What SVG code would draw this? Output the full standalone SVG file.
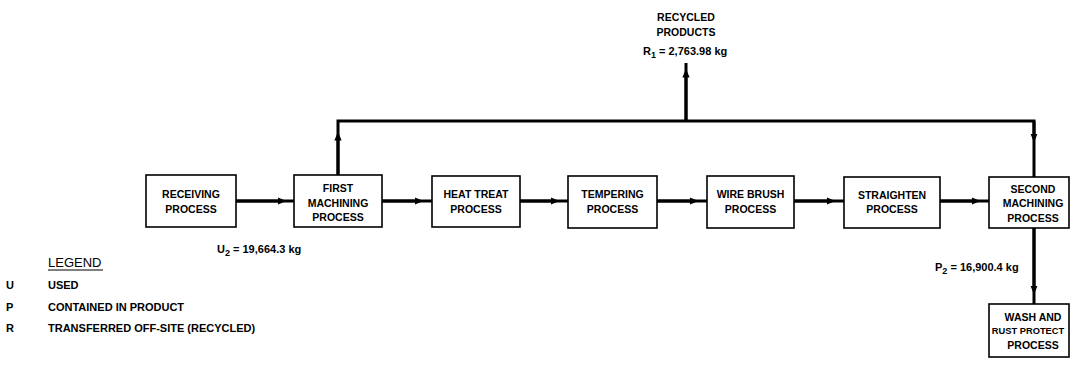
<svg xmlns="http://www.w3.org/2000/svg" width="1070" height="379" viewBox="0 0 1070 379">
<defs>
<style>
.box{fill:#fff;stroke:#000;stroke-width:1.6}
.t{font-family:"Liberation Sans",Arial,sans-serif;font-size:10.5px;font-weight:bold;text-anchor:middle;fill:#000}
.l{font-family:"Liberation Sans",Arial,sans-serif;font-size:11px;font-weight:bold;fill:#000}
.v{font-family:"Liberation Sans",Arial,sans-serif;font-size:11px;font-weight:bold;fill:#000}
.w{fill:none;stroke:#000;stroke-width:3}
</style>
<marker id="ah" viewBox="0 0 10 10" refX="5" refY="5" markerWidth="3" markerHeight="3" orient="auto" markerUnits="strokeWidth">
<path d="M0,1 L10,5 L0,9 z" fill="#000"/>
</marker>
</defs>
<rect width="1070" height="379" fill="#fff"/>
<g id="connectors">
<path class="w" d="M236,201 L294,201"/>
<path class="w" d="M236,201 L282,201" marker-end="url(#ah)"/>
<path class="w" d="M382,201 L432,201"/>
<path class="w" d="M382,201 L419,201" marker-end="url(#ah)"/>
<path class="w" d="M520,201 L568,201"/>
<path class="w" d="M520,201 L555,201" marker-end="url(#ah)"/>
<path class="w" d="M657,201 L707,201"/>
<path class="w" d="M657,201 L694,201" marker-end="url(#ah)"/>
<path class="w" d="M794,201 L844,201"/>
<path class="w" d="M794,201 L831,201" marker-end="url(#ah)"/>
<path class="w" d="M940,201 L989,201"/>
<path class="w" d="M940,201 L976,201" marker-end="url(#ah)"/>
<path class="w" d="M338,175 L338,121 L1034,121 L1034,177"/>
<path class="w" d="M338,175 L338,136" marker-end="url(#ah)"/>
<path class="w" d="M1034,121 L1034,138" marker-end="url(#ah)"/>
<path class="w" d="M686,121 L686,63"/>
<path class="w" d="M686,121 L686,73" marker-end="url(#ah)"/>
<path class="w" d="M1034,228 L1034,304"/>
<path class="w" d="M1034,228 L1034,290" marker-end="url(#ah)"/>
</g>
<g id="receiving">
<rect class="box" x="146" y="175" width="90" height="52"/>
<text class="t" x="191" y="198">RECEIVING</text>
<text class="t" x="191" y="213">PROCESS</text>
</g>
<g id="first-machining">
<rect class="box" x="294" y="175" width="88" height="52"/>
<text class="t" x="338" y="192">FIRST</text>
<text class="t" x="338" y="206.5">MACHINING</text>
<text class="t" x="338" y="221">PROCESS</text>
</g>
<g id="heat-treat">
<rect class="box" x="432" y="176" width="88" height="51"/>
<text class="t" x="476" y="198">HEAT TREAT</text>
<text class="t" x="476" y="213">PROCESS</text>
</g>
<g id="tempering">
<rect class="box" x="568" y="176" width="89" height="52"/>
<text class="t" x="612.5" y="198">TEMPERING</text>
<text class="t" x="612.5" y="213">PROCESS</text>
</g>
<g id="wire-brush">
<rect class="box" x="707" y="176" width="87" height="52"/>
<text class="t" x="750.5" y="198">WIRE BRUSH</text>
<text class="t" x="750.5" y="213">PROCESS</text>
</g>
<g id="straighten">
<rect class="box" x="844" y="177" width="96" height="51"/>
<text class="t" x="892" y="199">STRAIGHTEN</text>
<text class="t" x="892" y="213">PROCESS</text>
</g>
<g id="second-machining">
<rect class="box" x="989" y="177" width="80" height="51"/>
<text class="t" x="1033" y="193">SECOND</text>
<text class="t" x="1033" y="206.5">MACHINING</text>
<text class="t" x="1033" y="221.5">PROCESS</text>
</g>
<g id="wash">
<rect class="box" x="989" y="304" width="80" height="53"/>
<text class="t" x="1033" y="320.5">WASH AND</text>
<text class="t" x="1028" y="334" style="font-size:9.3px">RUST PROTECT</text>
<text class="t" x="1033" y="349">PROCESS</text>
</g>
<g id="labels">
<text class="t" x="686" y="20.5">RECYCLED</text>
<text class="t" x="686" y="35.5">PRODUCTS</text>
<text class="v" x="643" y="55">R<tspan dy="3" font-size="9">1</tspan><tspan dy="-3"> = 2,763.98 kg</tspan></text>
<text class="v" x="217" y="253">U<tspan dy="3" font-size="9">2</tspan><tspan dy="-3"> = 19,664.3 kg</tspan></text>
<text class="v" x="935" y="271">P<tspan dy="3" font-size="9">2</tspan><tspan dy="-3"> = 16,900.4 kg</tspan></text>
</g>
<g id="legend">
<text x="48" y="266.5" style="font-family:'Liberation Sans',Arial,sans-serif;font-size:13px">LEGEND</text>
<line x1="48" y1="270" x2="103" y2="270" stroke="#000" stroke-width="1"/>
<text class="l" x="6" y="289">U</text>
<text class="l" x="48" y="289">USED</text>
<text class="l" x="6" y="311">P</text>
<text class="l" x="48" y="311">CONTAINED IN PRODUCT</text>
<text class="l" x="6" y="332">R</text>
<text class="l" x="48" y="332">TRANSFERRED OFF-SITE (RECYCLED)</text>
</g>
</svg>
